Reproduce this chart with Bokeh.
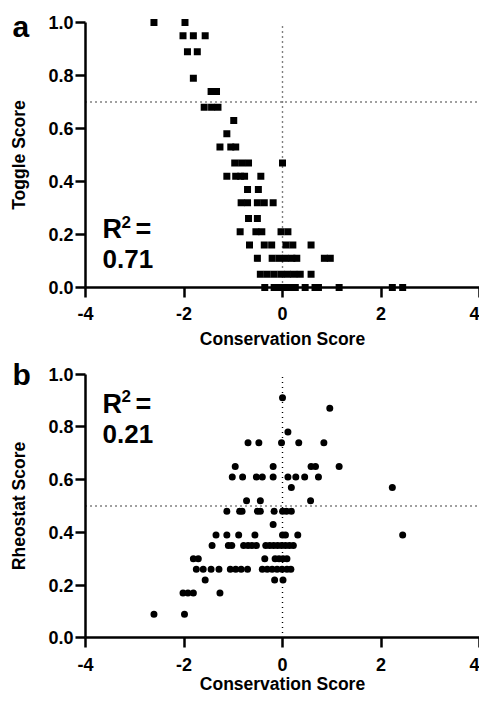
from bokeh.plotting import figure
from bokeh.models import Range1d, FixedTicker, Label, LinearAxis
from bokeh.layouts import column
from bokeh.embed import file_html
from bokeh.resources import INLINE

FONT = "Liberation Sans"

# ---- data -------------------------------------------------------------
x_ticks = [-4, -2, 0, 2, 4]
x_tick_labels = ["-4", "-2", "0", "2", "4"]
y_ticks = [0.0, 0.2, 0.4, 0.6, 0.8, 1.0]
y_tick_labels = ["0.0", "0.2", "0.4", "0.6", "0.8", "1.0"]

# panel a: Toggle score vs conservation score
toggle_x = [-2.61, -1.98,
            -2.02, -1.81, -1.57,
            -1.93, -1.73,
            -1.81,
            -1.45, -1.34,
            -1.59, -1.44, -1.31,
            -0.99,
            -1.13,
            -1.27, -1.05, -0.95,
            -0.97, -0.83, -0.69, 0.0,
            -1.13, -0.95, -0.85, -0.77, -0.44,
            -0.71, -0.49,
            -0.84, -0.71, -0.51, -0.37, -0.19,
            -0.69, -0.51,
            -0.86, -0.54, -0.42, -0.03, 0.11,
            -0.67, -0.37, -0.22, 0.07, 0.21, 0.58,
            -0.51, -0.21, -0.07, 0.06, 0.19, 0.29, 0.85, 0.97,
            -0.45, -0.31, -0.17, -0.03, 0.10, 0.23, 0.36, 0.58,
            -0.36, -0.17, -0.07, 0.05, 0.16, 0.26, 0.46, 0.66, 0.73, 1.15, 2.23, 2.44]
toggle_y = [1.0, 1.0,
            0.95, 0.95, 0.95,
            0.89, 0.89,
            0.79,
            0.74, 0.74,
            0.68, 0.68, 0.68,
            0.63,
            0.58,
            0.53, 0.53, 0.53,
            0.47, 0.47, 0.47, 0.47,
            0.42, 0.42, 0.42, 0.42, 0.42,
            0.37, 0.37,
            0.32, 0.32, 0.32, 0.32, 0.32,
            0.26, 0.26,
            0.21, 0.21, 0.21, 0.21, 0.21,
            0.16, 0.16, 0.16, 0.16, 0.16, 0.16,
            0.11, 0.11, 0.11, 0.11, 0.11, 0.11, 0.11, 0.11,
            0.05, 0.05, 0.05, 0.05, 0.05, 0.05, 0.05, 0.05,
            0.0, 0.0, 0.0, 0.0, 0.0, 0.0, 0.0, 0.0, 0.0, 0.0, 0.0, 0.0]

# panel b: Rheostat score vs conservation score
rheostat_x = [0.0,
              0.96,
              0.11,
              -0.70, -0.48, -0.02, 0.33, 0.84,
              -0.96, -0.19, 0.58, 0.67, 1.15,
              -1.02, -0.81, -0.53, -0.41, -0.19, 0.11, 0.27, 0.45, 0.73,
              0.18, 2.23,
              -0.73, -0.45, 0.57,
              -1.13, -0.87, -0.82, -0.51, -0.45, -0.17, 0.0, 0.08, 0.18,
              -0.19,
              -1.35, -1.13, -0.89, -0.56, 0.0, 0.06, 0.31, 2.44,
              -1.43, -1.10, -1.03, -0.79, -0.70, -0.62, -0.53, -0.34, -0.26, -0.18, -0.10, -0.02, 0.06, 0.14, 0.22,
              -1.81, -1.71, -0.36, -0.15, -0.07, 0.01, 0.09,
              -1.75, -1.61, -1.45, -1.29, -1.06, -0.95, -0.84, -0.71, -0.41, -0.31, -0.21, -0.11, -0.01, 0.09, 0.17,
              -1.57, -0.16, 0.01,
              -2.02, -1.92, -1.81, -1.27,
              -2.61, -1.99]
rheostat_y = [0.91,
              0.87,
              0.78,
              0.74, 0.74, 0.74, 0.74, 0.74,
              0.65, 0.65, 0.65, 0.65, 0.65,
              0.61, 0.61, 0.61, 0.61, 0.61, 0.61, 0.61, 0.61, 0.61,
              0.57, 0.57,
              0.52, 0.52, 0.52,
              0.48, 0.48, 0.48, 0.48, 0.48, 0.48, 0.48, 0.48, 0.48,
              0.43,
              0.39, 0.39, 0.39, 0.39, 0.39, 0.39, 0.39, 0.39,
              0.35, 0.35, 0.35, 0.35, 0.35, 0.35, 0.35, 0.35, 0.35, 0.35, 0.35, 0.35, 0.35, 0.35, 0.35,
              0.30, 0.30, 0.30, 0.30, 0.30, 0.30, 0.30,
              0.26, 0.26, 0.26, 0.26, 0.26, 0.26, 0.26, 0.26, 0.26, 0.26, 0.26, 0.26, 0.26, 0.26, 0.26,
              0.22, 0.22, 0.22,
              0.17, 0.17, 0.17, 0.17,
              0.09, 0.09]

toggle_threshold = 0.7
rheostat_threshold = 0.5
conservation_zero = 0.0
toggle_r2 = "0.71"
rheostat_r2 = "0.21"


def make_panel(xs, ys, marker, ylabel, threshold, letter, r2, fig_h,
               y_lo, y_hi, xlabel_standoff, letter_y, r_y, sup_y, r2_y):
    # the frame covers the whole figure; the axes are pinned at x=-4 / y=0
    p = figure(frame_width=479, frame_height=fig_h,
               x_range=Range1d(-5.726, 4.0), y_range=Range1d(y_lo, y_hi),
               x_axis_type=None, y_axis_type=None,
               output_backend="svg", toolbar_location=None,
               min_border_left=0, min_border_right=0,
               min_border_top=0, min_border_bottom=0)
    p.outline_line_color = None
    p.background_fill_color = "white"
    p.border_fill_color = "white"

    common = dict(axis_line_width=2.5, axis_line_color="black",
                  major_tick_line_width=2.5, major_tick_line_color="black",
                  major_tick_out=10, major_tick_in=0,
                  minor_tick_out=0, minor_tick_in=0,
                  major_label_text_font=FONT,
                  major_label_text_font_style="bold",
                  major_label_text_font_size="18px",
                  major_label_text_color="black",
                  axis_label_text_font=FONT,
                  axis_label_text_font_style="bold",
                  axis_label_text_font_size="17.5px",
                  axis_label_text_color="black")

    xaxis = LinearAxis(fixed_location=0, bounds=(-4, 4),
                       ticker=FixedTicker(ticks=x_ticks, minor_ticks=[]),
                       major_label_overrides=dict(zip(x_ticks, x_tick_labels)),
                       major_label_standoff=10,
                       axis_label="Conservation Score",
                       axis_label_standoff=xlabel_standoff,
                       **common)
    p.add_layout(xaxis, "below")

    yaxis = LinearAxis(fixed_location=-4, bounds=(0, 1),
                       ticker=FixedTicker(ticks=y_ticks, minor_ticks=[]),
                       major_label_overrides=dict(zip(y_ticks, y_tick_labels)),
                       major_label_standoff=2,
                       axis_label=ylabel,
                       axis_label_standoff=16,
                       **common)
    p.add_layout(yaxis, "left")

    # dotted reference lines
    p.line([conservation_zero, conservation_zero], [0, 1], line_dash="1 4",
           line_width=1.4, line_color="black")
    p.line([-4, 4], [threshold, threshold], line_dash="1 4",
           line_width=1.4, line_color="black")

    p.scatter(xs, ys, marker=marker, size=7, fill_color="black",
              line_color=None)

    def lab(x, y, text, size):
        p.add_layout(Label(x=x, y=y, text=text, text_font=FONT,
                           text_font_style="bold", text_font_size=size,
                           text_color="black", text_align="left",
                           text_baseline="alphabetic"))

    lab(-5.482, letter_y, letter, "30px")
    lab(-3.655, r_y, "R", "27px")
    lab(-3.269, sup_y, "2", "17px")
    lab(-2.985, r_y, "=", "27px")
    lab(-3.655, r2_y, r2, "26px")
    return p


pa = make_panel(toggle_x, toggle_y, "square", "Toggle Score", toggle_threshold,
                "a", toggle_r2, 348, -0.2302, 1.0830, 5,
                letter_y=0.985, r_y=0.219, sup_y=0.249, r2_y=0.106)
pb = make_panel(rheostat_x, rheostat_y, "circle", "Rheostat Score",
                rheostat_threshold, "b", rheostat_r2, 348, -0.2216, 1.0966, 0,
                letter_y=0.998, r_y=0.885, sup_y=0.915, r2_y=0.771)

layout = column(pa, pb, spacing=0)
open("out.html", "w").write(file_html(layout, INLINE))
